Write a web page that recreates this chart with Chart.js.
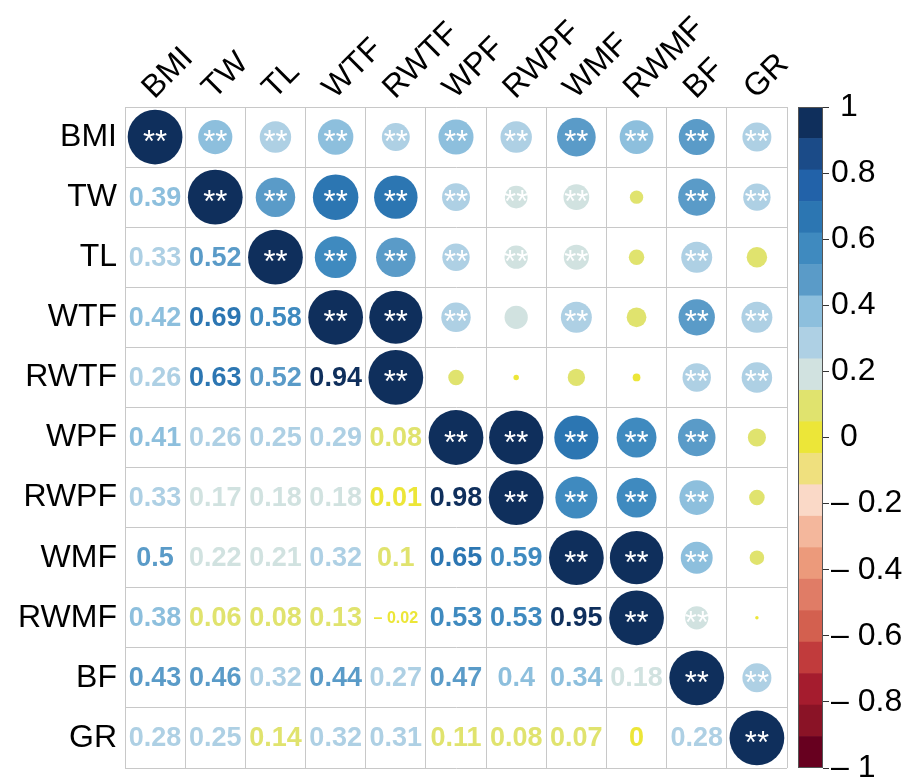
<!DOCTYPE html>
<html>
<head>
<meta charset="utf-8">
<script src="https://cdn.jsdelivr.net/npm/chart.js@4.4.1/dist/chart.umd.min.js"></script>
<style>
	body { margin: 0; background: #fff; }
	#wrap { position: relative; width: 917px; height: 780px; }
	canvas { position: absolute; left: 0; top: 0; }
</style>
</head>
<body>
<div id="wrap">
	<canvas id="corrChart" width="917" height="780"></canvas>
	<canvas id="legendChart" width="917" height="780"></canvas>
</div>
<script>
'use strict';

// variable names (rows and columns)
const vars = ['BMI', 'TW', 'TL', 'WTF', 'RWTF', 'WPF', 'RWPF', 'WMF', 'RWMF', 'BF', 'GR'];

// lower triangle, row i against columns 0..i-1
const corrLower = [
	[],
	[0.39],
	[0.33, 0.52],
	[0.42, 0.69, 0.58],
	[0.26, 0.63, 0.52, 0.94],
	[0.41, 0.26, 0.25, 0.29, 0.08],
	[0.33, 0.17, 0.18, 0.18, 0.01, 0.98],
	[0.5, 0.22, 0.21, 0.32, 0.1, 0.65, 0.59],
	[0.38, 0.06, 0.08, 0.13, -0.02, 0.53, 0.53, 0.95],
	[0.43, 0.46, 0.32, 0.44, 0.27, 0.47, 0.4, 0.34, 0.18],
	[0.28, 0.25, 0.14, 0.32, 0.31, 0.11, 0.08, 0.07, 0.004, 0.28]
];

// "**" marks in the upper triangle, row i against columns i+1..end
const sigUpper = [
	[1, 1, 1, 1, 1, 1, 1, 1, 1, 1],
	[1, 1, 1, 1, 1, 1, 0, 1, 1],
	[1, 1, 1, 1, 1, 0, 1, 0],
	[1, 1, 0, 1, 0, 1, 1],
	[0, 0, 0, 0, 1, 1],
	[1, 1, 1, 1, 0],
	[1, 1, 1, 0],
	[1, 1, 0],
	[1, 0],
	[1],
	[]
];

// colour legend ticks
const legendTicks = [1, 0.8, 0.6, 0.4, 0.2, 0, -0.2, -0.4, -0.6, -0.8, -1];

// 21 colours from -1 to 1
const palette = [
	'#67001f', '#8a1326', '#a51c2e', '#c13b3c', '#d3604f', '#e07c66', '#ec9a7b',
	'#f4b79c', '#fad9c7', '#efe07e', '#ece638', '#e0e36e', '#d1e2e0', '#aed0e4',
	'#8dbfdd', '#5a9bc8', '#3f8abf', '#2c76b2', '#2262a9', '#1b4b88', '#0f2f5c'
];

const FONT = 'Liberation Sans, Arial, sans-serif';
const LABEL_SIZE = 32;

function colourOf(v) {
	let k = Math.floor((v + 1) / 2 * palette.length);
	return palette[Math.min(palette.length - 1, Math.max(0, k))];
}

function cellValue(i, j) {
	if (i === j) return 1;
	return i > j ? corrLower[i][j] : corrLower[j][i];
}

function fmt(v) {
	const r = Math.round(v * 100) / 100;
	if (r < 0) return '\u2013 ' + String(-r);
	return String(r);
}

// circles: upper triangle plus diagonal
let circles = [];
for (let i = 0; i < vars.length; i++) {
	for (let j = i; j < vars.length; j++) {
		circles.push({
			x: vars[j],
			y: vars[i],
			v: cellValue(i, j),
			sig: i === j || sigUpper[i][j - i - 1] === 1
		});
	}
}

function circleRadius(c) {
	const area = c.chart.chartArea;
	if (!area) return 0;
	const cell = (area.right - area.left) / vars.length;
	return Math.sqrt(Math.abs(c.raw.v)) * cell * 0.455;
}

// no extra room for half labels, the padding is set by hand
function noScalePadding(s) {
	s.paddingTop = 0;
	s.paddingBottom = 0;
	s.paddingLeft = 0;
	s.paddingRight = 0;
}

const cellPlugin = {
	id: 'cellText',
	afterDatasetsDraw(chart) {
		const ctx = chart.ctx;
		const xs = chart.scales.x;
		const ys = chart.scales.y;
		ctx.save();
		ctx.textAlign = 'center';
		// numbers in the lower triangle
		for (let i = 1; i < vars.length; i++) {
			for (let j = 0; j < i; j++) {
				const v = corrLower[i][j];
				const s = fmt(v);
				ctx.font = (s.length > 4 ? 'bold 16px ' : 'bold 27px ') + FONT;
				ctx.textBaseline = 'middle';
				ctx.fillStyle = colourOf(v);
				ctx.fillText(s, xs.getPixelForValue(j), ys.getPixelForValue(i) + 1);
			}
		}
		// stars on the circles
		ctx.font = '31px ' + FONT;
		ctx.textBaseline = 'alphabetic';
		ctx.fillStyle = '#ffffff';
		circles.forEach(p => {
			if (!p.sig) return;
			const px = xs.getPixelForValue(vars.indexOf(p.x));
			const py = ys.getPixelForValue(vars.indexOf(p.y));
			ctx.fillText('**', px, py + 15);
		});
		ctx.restore();
	}
};

let corrConfig = {
	type: 'scatter',
	data: {
		datasets: [{
			data: circles,
			backgroundColor: c => colourOf(c.raw.v),
			borderWidth: 0,
			pointRadius: circleRadius,
			pointHoverRadius: circleRadius
		}]
	},
	options: {
		responsive: false,
		animation: false,
		devicePixelRatio: 1,
		layout: { padding: { left: 0, top: 0, right: 130, bottom: 12 } },
		plugins: { legend: { display: false }, tooltip: { enabled: false } },
		scales: {
			x: {
				type: 'category',
				labels: vars,
				position: 'top',
				offset: true,
				grid: { offset: true, color: '#c8c8c8', lineWidth: 1, drawTicks: false },
				border: { display: true, color: '#c8c8c8' },
				ticks: {
					autoSkip: false,
					minRotation: 45,
					maxRotation: 45,
					padding: 0,
					labelOffset: 20,
					color: '#000',
					font: { family: FONT, size: LABEL_SIZE }
				},
				afterFit: s => { s.height = 107; noScalePadding(s); }
			},
			y: {
				type: 'category',
				labels: vars,
				offset: true,
				grid: { offset: true, color: '#c8c8c8', lineWidth: 1, drawTicks: false },
				border: { display: true, color: '#c8c8c8' },
				ticks: {
					autoSkip: false,
					padding: 8,
					color: '#000',
					font: { family: FONT, size: LABEL_SIZE }
				},
				afterFit: s => { s.width = 125; noScalePadding(s); }
			}
		}
	},
	plugins: [cellPlugin]
};

// colour legend as floating bars
const step = 2 / palette.length;
const legendSets = palette.map((c, k) => ({
	data: [[-1 + k * step, -1 + (k + 1) * step]],
	backgroundColor: c,
	borderWidth: 0,
	grouped: false,
	barPercentage: 1,
	categoryPercentage: 1
}));

const framePlugin = {
	id: 'frame',
	afterDatasetsDraw(chart) {
		const a = chart.chartArea;
		const ctx = chart.ctx;
		ctx.save();
		ctx.strokeStyle = '#555';
		ctx.lineWidth = 1;
		ctx.strokeRect(a.left + 0.5, a.top + 0.5, a.right - a.left - 1, a.bottom - a.top - 1);
		ctx.restore();
	}
};

let legendConfig = {
	type: 'bar',
	data: { labels: [''], datasets: legendSets },
	options: {
		responsive: false,
		animation: false,
		devicePixelRatio: 1,
		layout: { padding: { left: 798, top: 107, right: 0, bottom: 12 } },
		plugins: { legend: { display: false }, tooltip: { enabled: false } },
		scales: {
			x: { display: false, afterFit: noScalePadding },
			y: {
				position: 'right',
				min: -1,
				max: 1,
				afterBuildTicks: s => { s.ticks = legendTicks.map(v => ({ value: v })); },
				ticks: {
					padding: 2,
					color: '#000',
					font: { family: FONT, size: LABEL_SIZE },
					callback: v => {
						const r = Math.round(v * 10) / 10;
						if (r === 0 || r === 1) return ' ' + r;
						if (r < 0) return '\u2013 ' + String(-r);
						return String(r);
					}
				},
				grid: { drawOnChartArea: false, tickLength: 6, color: '#333' },
				border: { display: false },
				afterFit: s => { s.width = 94; noScalePadding(s); }
			}
		}
	},
	plugins: [framePlugin]
};

window.addEventListener('load', function() {
	new Chart(document.getElementById('corrChart').getContext('2d'), corrConfig);
	new Chart(document.getElementById('legendChart').getContext('2d'), legendConfig);
}, false);
</script>
</body>
</html>
